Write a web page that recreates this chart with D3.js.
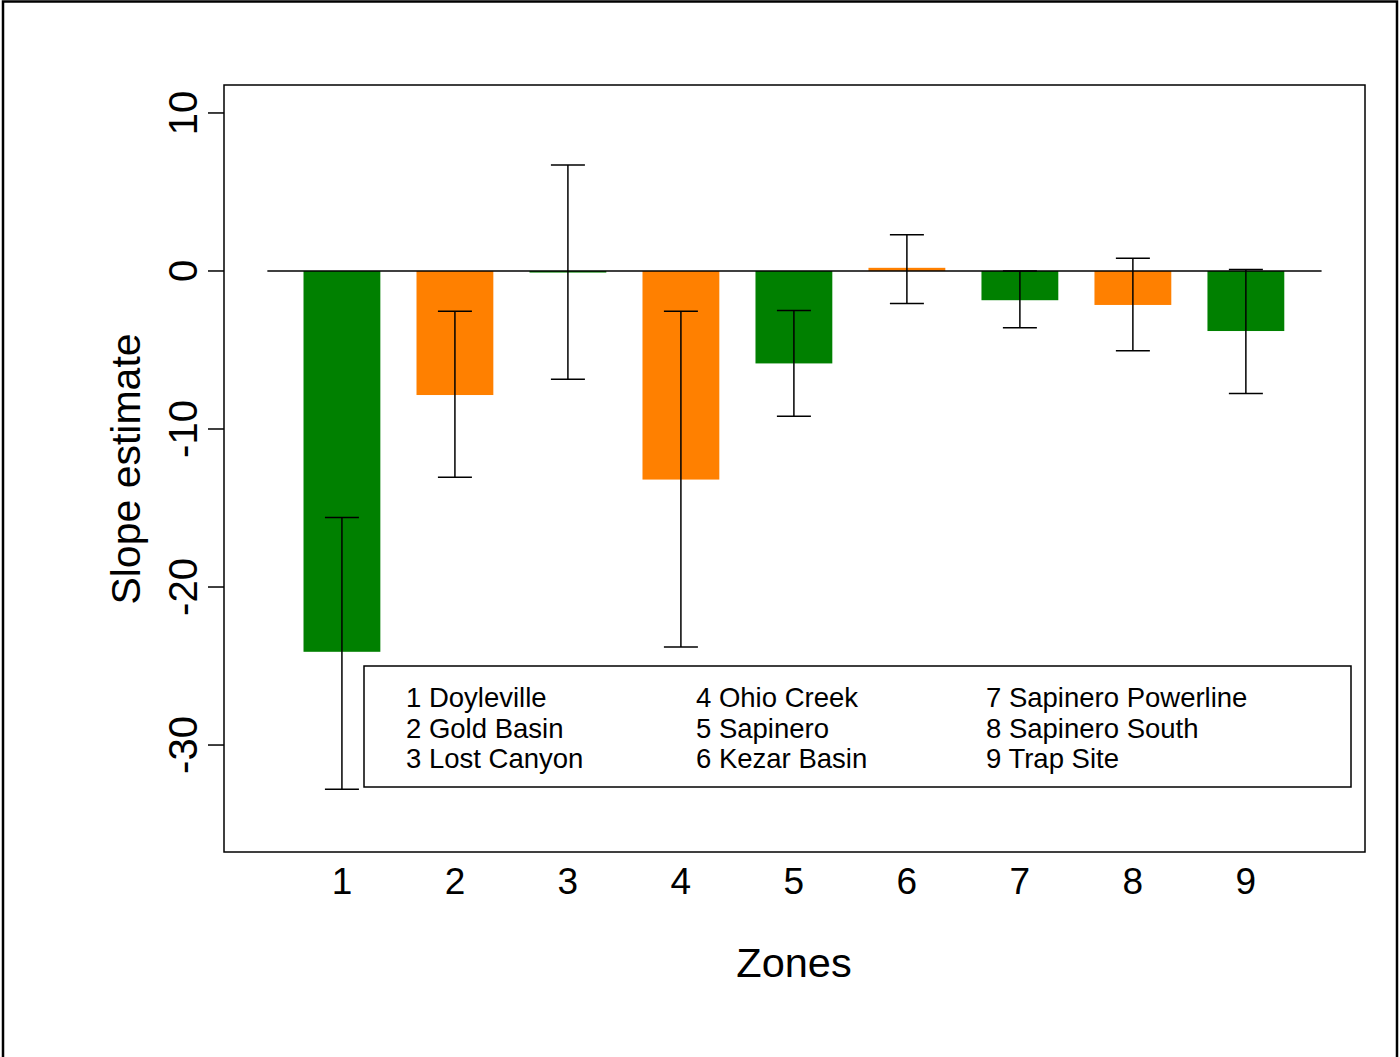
<!DOCTYPE html>
<html>
<head>
<meta charset="utf-8">
<script src="https://cdn.jsdelivr.net/npm/d3@7"></script>
<style>
  body { margin: 0; background: #fff; }
  svg text { font-family: "Liberation Sans", Arial, sans-serif; fill: #000; }
</style>
</head>
<body>
<div id="chart"></div>
<script>
// Data
const zones = ['1', '2', '3', '4', '5', '6', '7', '8', '9'];
const zoneNames = ['Doyleville', 'Gold Basin', 'Lost Canyon', 'Ohio Creek', 'Sapinero',
    'Kezar Basin', 'Sapinero Powerline', 'Sapinero South', 'Trap Site'];
const slopes = [-24.1, -7.85, -0.1, -13.2, -5.85, 0.2, -1.85, -2.15, -3.8];
const upper = [-15.6, -2.55, 6.7, -2.55, -2.5, 2.3, 0.0, 0.8, 0.1];
const lower = [-32.8, -13.05, -6.85, -23.8, -9.2, -2.05, -3.6, -5.05, -7.75];
const barColors = ['#008000', '#ff8000', '#008000', '#ff8000', '#008000',
    '#ff8000', '#008000', '#ff8000', '#008000'];
const yTicks = [10, 0, -10, -20, -30];

function draw() {
    const dimensions = {
        width: 1400,
        height: 1057,
        plotLeft: 224,
        plotRight: 1365,
        plotTop: 85,
        plotBottom: 852,
    };

    const svg = d3.select('#chart')
        .append('svg')
        .attr('width', dimensions.width)
        .attr('height', dimensions.height);

    // outer frame
    svg.append('rect')
        .attr('x', 3).attr('y', 1.5)
        .attr('width', 1394).attr('height', 1070)
        .attr('fill', 'none')
        .attr('stroke', '#000')
        .attr('stroke-width', 2.5);

    // Scales
    const yScale = d3.scaleLinear()
        .domain([-36.77, 11.77])
        .range([dimensions.plotBottom, dimensions.plotTop]);

    const xScale = d3.scaleBand()
        .domain(zones)
        .range([284.3, 1303.5])
        .paddingInner(0.32)
        .paddingOuter(0.17);

    const cx = z => xScale(z) + xScale.bandwidth() / 2;

    // Bars
    svg.append('g')
        .selectAll('rect')
        .data(zones)
        .join('rect')
        .attr('x', z => xScale(z))
        .attr('width', xScale.bandwidth())
        .attr('y', (z, i) => yScale(Math.max(0, slopes[i])))
        .attr('height', (z, i) => Math.max(1.5, Math.abs(yScale(slopes[i]) - yScale(0))))
        .attr('fill', (z, i) => barColors[i]);

    // zero line
    const step = xScale.step();
    svg.append('line')
        .attr('x1', cx(zones[0]) - step * 0.66)
        .attr('x2', cx(zones[zones.length - 1]) + step * 0.67)
        .attr('y1', yScale(0)).attr('y2', yScale(0))
        .attr('stroke', '#000')
        .attr('stroke-width', 1.5);

    // Error bars
    const errs = svg.append('g')
        .attr('stroke', '#000')
        .attr('stroke-width', 1.5);
    zones.forEach((z, i) => {
        const x = cx(z);
        errs.append('line')
            .attr('x1', x).attr('x2', x)
            .attr('y1', yScale(upper[i])).attr('y2', yScale(lower[i]));
        [upper[i], lower[i]].forEach(v => {
            errs.append('line')
                .attr('x1', x - 17).attr('x2', x + 17)
                .attr('y1', yScale(v)).attr('y2', yScale(v));
        });
    });

    // plot box
    svg.append('rect')
        .attr('x', dimensions.plotLeft)
        .attr('y', dimensions.plotTop)
        .attr('width', dimensions.plotRight - dimensions.plotLeft)
        .attr('height', dimensions.plotBottom - dimensions.plotTop)
        .attr('fill', 'none')
        .attr('stroke', '#000')
        .attr('stroke-width', 1.5);

    // Y axis
    const yAxisGroup = svg.append('g')
        .attr('transform', `translate(${dimensions.plotLeft}, 0)`);
    yAxisGroup.selectAll('line')
        .data(yTicks)
        .join('line')
        .attr('x1', -16).attr('x2', 0)
        .attr('y1', d => yScale(d)).attr('y2', d => yScale(d))
        .attr('stroke', '#000')
        .attr('stroke-width', 1.5);
    yAxisGroup.selectAll('text')
        .data(yTicks)
        .join('text')
        .attr('transform', d => `translate(-27, ${yScale(d)}) rotate(-90)`)
        .attr('text-anchor', 'middle')
        .style('font-size', '40px')
        .text(d => d);

    // X tick labels
    svg.append('g')
        .selectAll('text')
        .data(zones)
        .join('text')
        .attr('x', z => cx(z))
        .attr('y', 894)
        .attr('text-anchor', 'middle')
        .style('font-size', '37px')
        .text(z => z);

    // Axis titles
    svg.append('text')
        .attr('transform', 'translate(140, 469) rotate(-90)')
        .attr('text-anchor', 'middle')
        .style('font-size', '41px')
        .text('Slope estimate');

    svg.append('text')
        .attr('x', 794)
        .attr('y', 977)
        .attr('text-anchor', 'middle')
        .style('font-size', '41.5px')
        .text('Zones');

    // Legend
    const legend = svg.append('g');
    legend.append('rect')
        .attr('x', 364).attr('y', 666)
        .attr('width', 987).attr('height', 121)
        .attr('fill', '#fff')
        .attr('stroke', '#000')
        .attr('stroke-width', 1.5);
    const colX = [406, 696, 986];
    legend.selectAll('text')
        .data(zones)
        .join('text')
        .attr('x', (z, i) => colX[Math.floor(i / 3)])
        .attr('y', (z, i) => 707 + (i % 3) * 30.5)
        .style('font-size', '27.5px')
        .text((z, i) => `${z} ${zoneNames[i]}`);
}

draw();
</script>
</body>
</html>
